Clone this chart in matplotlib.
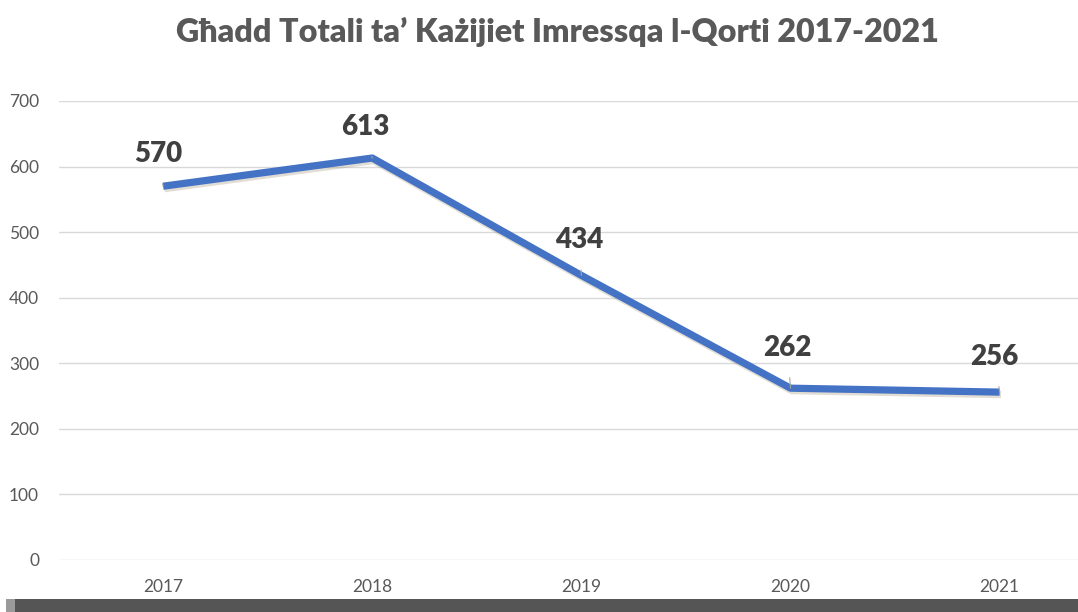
import matplotlib.pyplot as plt
import matplotlib.patheffects as pe
from matplotlib.patches import Rectangle
import numpy as np

years = ["2017", "2018", "2019", "2020", "2021"]
cases = [570, 613, 434, 262, 256]
y_ticks = [0, 100, 200, 300, 400, 500, 600, 700]

title = "Għadd Totali ta\u2019 Każijiet Imressqa l-Qorti 2017-2021"

plt.rcParams['font.family'] = ['Lato', 'DejaVu Sans']

fig = plt.figure(figsize=(10.78, 6.12), dpi=100)
fig.patch.set_facecolor("white")
ax = fig.add_axes([0.0543, 0.085, 0.970, 0.750])

x = np.arange(len(years))
ax.plot(x, cases, color="#4472C4", lw=5.2, solid_joinstyle="round", solid_capstyle="butt",
        path_effects=[pe.SimpleLineShadow(offset=(1.0, -1.8), shadow_color="#8a7a5a", alpha=0.25),
                      pe.Normal()], zorder=3)

# data labels with short leader lines
label_off = [(-5, 32), (-7, 31), (-2, 35), (-3, 40), (-5, 35)]
for xi, val, (dx, dy) in zip(x, cases, label_off):
    ax.annotate(str(val), xy=(xi, val), xytext=(dx * 0.72, dy * 0.72), textcoords="offset points",
                ha="center", va="center", fontsize=20, fontweight="heavy", color="#404040",
                arrowprops=dict(arrowstyle="-", color="#a6a6a6", lw=0.8, shrinkA=10, shrinkB=0),
                zorder=4)

ax.set_xlim(-0.5, len(years) - 0.5)
ax.set_ylim(0, 700)
ax.set_yticks(y_ticks)
ax.set_xticks(x)
ax.set_xticklabels(years)
ax.tick_params(axis="both", length=0, labelsize=12.5, labelcolor="#595959")
ax.tick_params(axis="y", pad=14)
ax.tick_params(axis="x", pad=14)
ax.grid(axis="y", color="#d9d9d9", lw=1.0)
ax.set_axisbelow(True)
for s in ax.spines.values():
    s.set_visible(False)

fig.text(0.517, 0.947, title, ha="center", va="center", fontsize=23.2, fontweight="heavy",
         color="#595959")

# dark shadow band along bottom edge
fig.patches.append(Rectangle((0.012, 0.0), 0.99, 0.021, transform=fig.transFigure,
                             facecolor="#555555", edgecolor="none", zorder=10))
fig.patches.append(Rectangle((0.006, 0.0), 0.008, 0.021, transform=fig.transFigure,
                             facecolor="#9a9a9a", edgecolor="none", zorder=10))

fig.savefig("out.png", dpi=100, facecolor="white")
